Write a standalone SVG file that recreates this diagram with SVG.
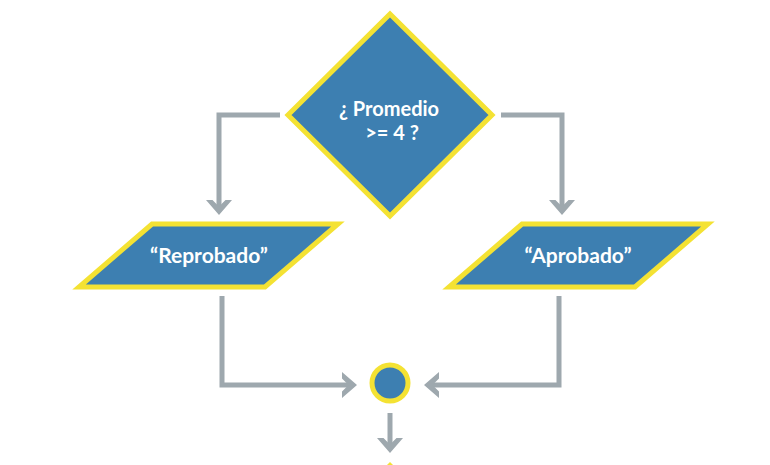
<svg xmlns="http://www.w3.org/2000/svg" xmlns:xlink="http://www.w3.org/1999/xlink" width="770" height="465" viewBox="0 0 770 465">
<defs>
<style>
.shape{fill:#3d7fb1;stroke:#f4e233;stroke-width:5;stroke-linejoin:miter}
.line{fill:none;stroke:#9ea8ae;stroke-width:5;stroke-linejoin:miter}
.chev{fill:#9ea8ae}
.lbl{font-family:Lato,"Open Sans","Liberation Sans",sans-serif;font-weight:bold;font-size:21px;fill:#ffffff;text-anchor:middle}
.lbl2{font-size:20px}
</style>
<path id="chev" d="M-13,-15 L-6.5,-15 L0,-8.5 L6.5,-15 L13,-15 L0,0 Z"/>
</defs>
<rect width="770" height="465" fill="#ffffff"/>
<g id="connectors">
<polyline class="line" points="280,115 219,115 219,208"/>
<use href="#chev" class="chev" transform="translate(219,215)"/>
<polyline class="line" points="501,115 562,115 562,208"/>
<use href="#chev" class="chev" transform="translate(562,215)"/>
<polyline class="line" points="222,296 222,385 350,385"/>
<use href="#chev" class="chev" transform="translate(357,385) rotate(-90)"/>
<polyline class="line" points="559,296 559,385 431,385"/>
<use href="#chev" class="chev" transform="translate(424,385) rotate(90)"/>
<line class="line" x1="390" y1="413" x2="390" y2="446"/>
<use href="#chev" class="chev" transform="translate(390,453)"/>
</g>
<g id="decision">
<polygon class="shape" points="390,14 492,115 390,216 288,115"/>
<text class="lbl lbl2" x="389" y="116">¿ Promedio</text>
<text class="lbl lbl2" x="392" y="140">&gt;= 4 ?</text>
</g>
<g id="reprobado">
<polygon class="shape" points="152,224 338,224 265,287 79,287"/>
<text class="lbl" x="209" y="263">“Reprobado”</text>
</g>
<g id="aprobado">
<polygon class="shape" points="522,224 708,224 635,287 449,287"/>
<text class="lbl" x="578" y="263">“Aprobado”</text>
</g>
<g id="connector-node">
<circle class="shape" cx="390" cy="383" r="18"/>
</g>
<g id="next-node">
<polygon fill="#f4e233" points="390,462 393,465 387,465"/>
</g>
</svg>
